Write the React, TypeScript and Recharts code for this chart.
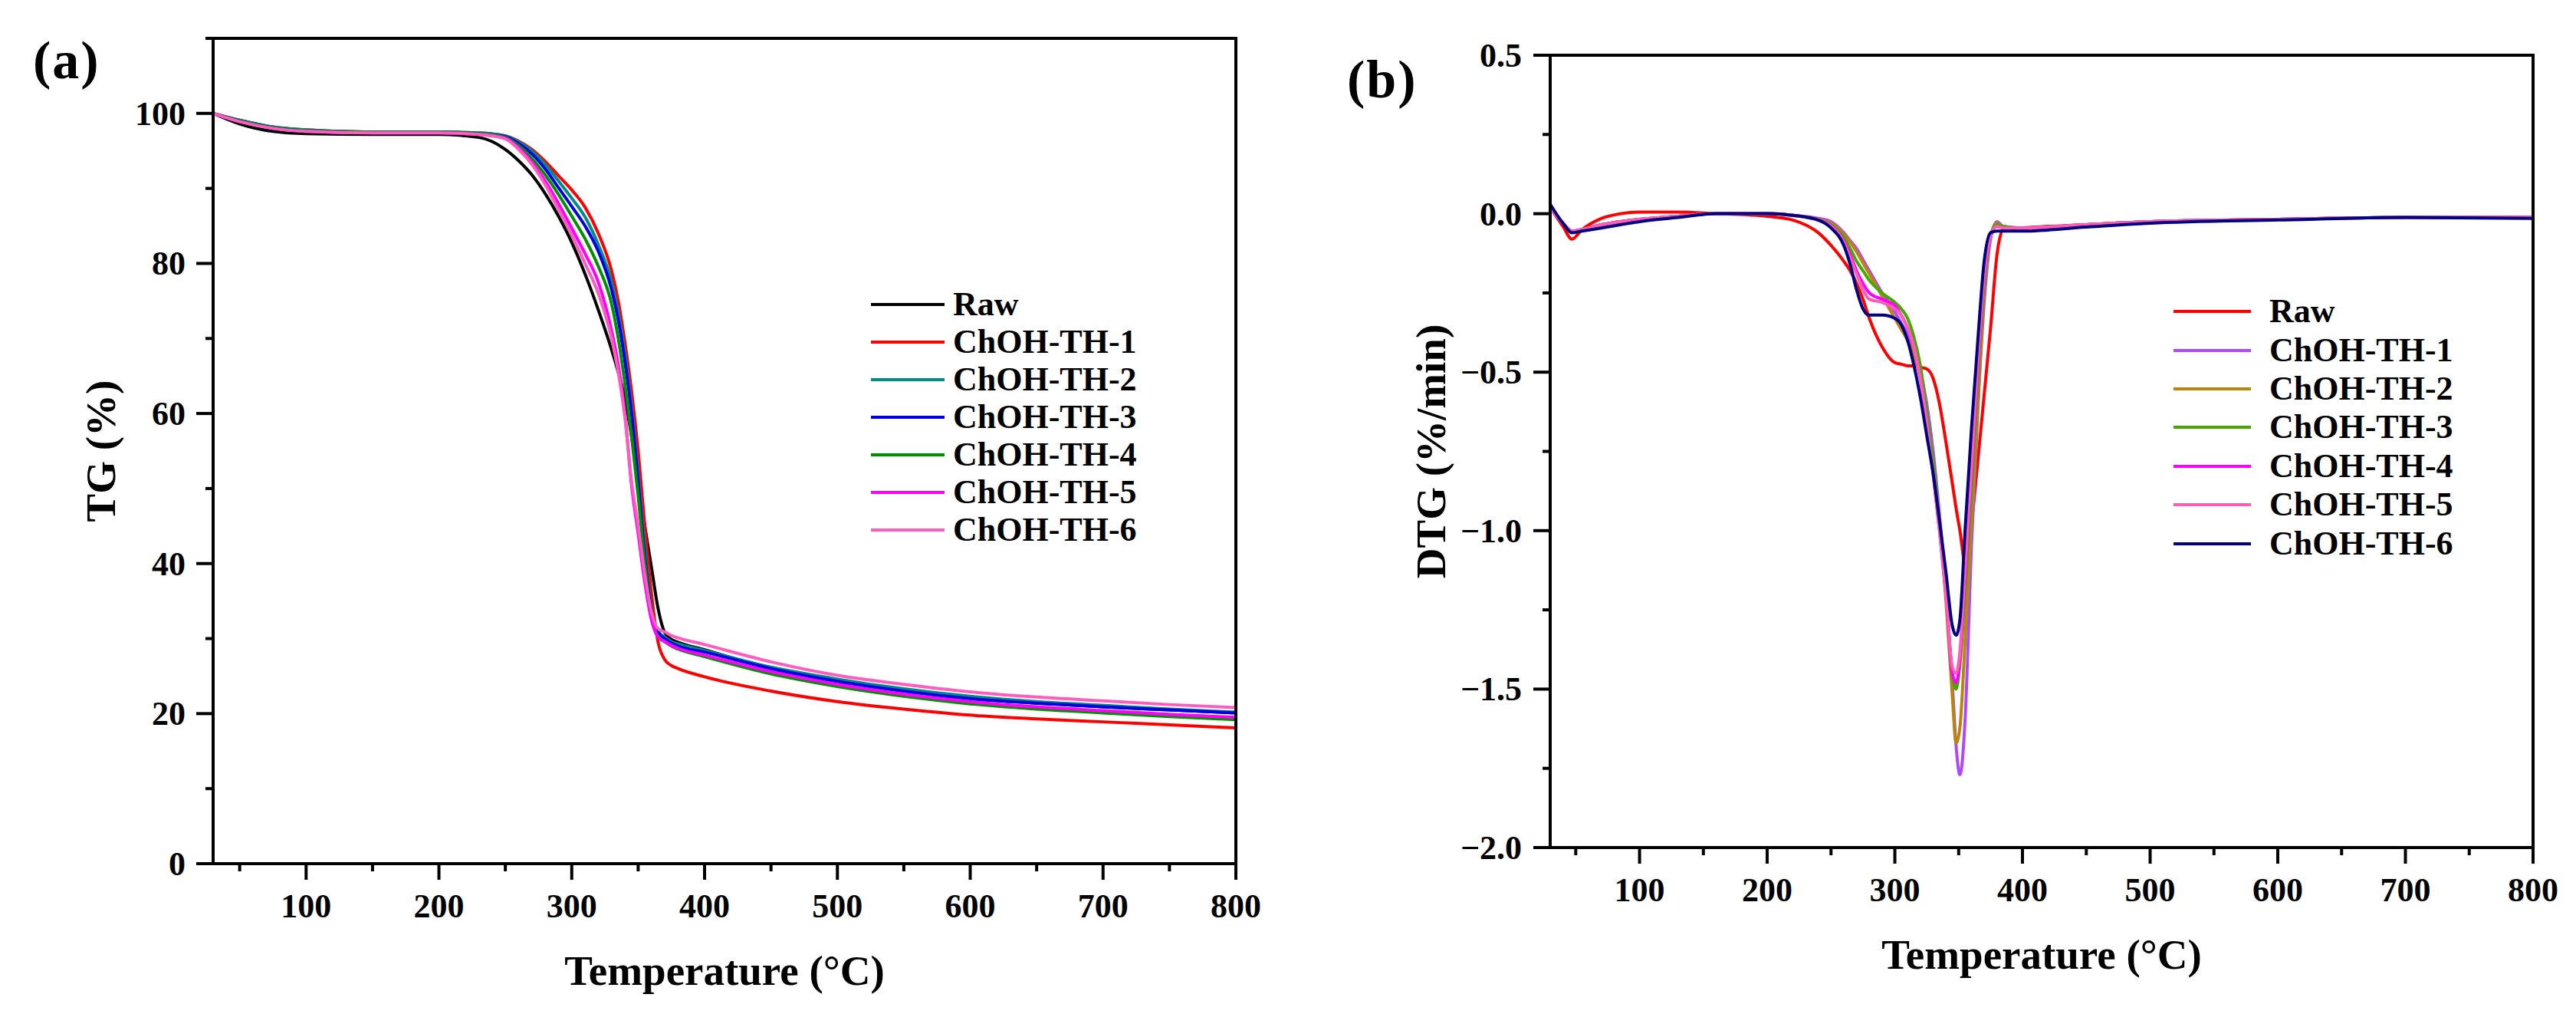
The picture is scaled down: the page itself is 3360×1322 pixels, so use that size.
import React from 'react';
import { LineChart, Line, XAxis, YAxis, Label } from 'recharts';

const FONT = "'Liberation Serif', 'Times New Roman', Times, serif";

// ---------------- Panel (a): TG ----------------
const TEMPS_A = [30, 50, 75, 100, 150, 200, 230, 250, 260, 270, 280, 290, 300, 310, 320, 330, 335, 340, 345, 350, 355, 360, 365, 370, 375, 380, 400, 450, 500, 550, 600, 650, 700, 750, 800];
const TG_RAW = [100, 98.6, 97.6, 97.3, 97.2, 97.2, 96.8, 95.2, 93.7, 91.8, 89.3, 86.3, 82.8, 78.6, 73.8, 68.5, 65.5, 62.0, 57.0, 51.0, 45.0, 39.5, 34.0, 30.8, 29.9, 29.5, 28.5, 26.0, 24.3, 23.0, 22.0, 21.4, 20.9, 20.5, 20.1];
const TG_TH1 = [100, 99.1, 98.2, 97.8, 97.5, 97.5, 97.4, 97.0, 96.3, 95.2, 93.6, 91.7, 89.8, 87.5, 84.0, 79.0, 75.0, 69.5, 63.0, 55.0, 45.0, 36.0, 29.5, 27.2, 26.4, 26.0, 24.9, 23.0, 21.6, 20.6, 19.8, 19.3, 18.9, 18.5, 18.1];
const TG_TH2 = [100, 99.1, 98.2, 97.8, 97.5, 97.5, 97.4, 97.0, 96.2, 95.0, 93.2, 91.0, 88.7, 86.2, 82.5, 77.5, 73.5, 68.0, 61.0, 52.0, 42.0, 34.0, 31.0, 30.2, 29.6, 29.3, 28.4, 26.2, 24.6, 23.3, 22.3, 21.6, 21.1, 20.6, 20.2];
const TG_TH3 = [100, 99.0, 98.1, 97.7, 97.5, 97.5, 97.3, 96.9, 96.0, 94.6, 92.6, 90.1, 87.6, 85.0, 81.6, 76.5, 72.5, 67.0, 60.0, 51.0, 41.0, 33.5, 30.8, 30.0, 29.4, 29.0, 28.2, 26.0, 24.3, 23.0, 22.0, 21.4, 20.9, 20.5, 20.1];
const TG_TH4 = [100, 99.0, 98.1, 97.7, 97.5, 97.5, 97.3, 96.8, 95.7, 94.0, 91.8, 89.2, 86.3, 83.3, 79.6, 74.6, 70.0, 64.0, 57.0, 49.0, 40.0, 33.0, 30.3, 29.6, 29.0, 28.6, 27.6, 25.3, 23.6, 22.3, 21.3, 20.6, 20.1, 19.6, 19.2];
const TG_TH5 = [100, 98.9, 98.0, 97.6, 97.4, 97.4, 97.2, 96.7, 95.4, 93.5, 91.0, 88.0, 84.7, 81.3, 77.5, 71.0, 66.5, 60.0, 50.5, 44.0, 37.5, 32.5, 30.2, 29.6, 29.1, 28.7, 27.8, 25.6, 23.9, 22.6, 21.6, 20.9, 20.4, 19.9, 19.5];
const TG_TH6 = [100, 98.9, 98.0, 97.6, 97.4, 97.4, 97.2, 96.6, 95.2, 93.2, 90.5, 87.2, 83.8, 80.0, 76.0, 70.0, 65.5, 59.5, 51.0, 45.0, 38.5, 33.5, 31.3, 30.9, 30.4, 30.1, 29.2, 26.9, 25.1, 23.9, 22.9, 22.2, 21.7, 21.2, 20.8];

const NAMES = ['Raw', 'ChOH-TH-1', 'ChOH-TH-2', 'ChOH-TH-3', 'ChOH-TH-4', 'ChOH-TH-5', 'ChOH-TH-6'];
const KEYS = ['raw', 'th1', 'th2', 'th3', 'th4', 'th5', 'th6'];
const COLORS_A = ['#000000', '#FF0000', '#008B8B', '#0000E6', '#009000', '#FF00FF', '#FF5CC0'];
const VALUES_A = [TG_RAW, TG_TH1, TG_TH2, TG_TH3, TG_TH4, TG_TH5, TG_TH6];

// ---------------- Panel (b): DTG ----------------
const TEMPS_B = [30, 40, 47, 55, 70, 85, 100, 130, 160, 200, 220, 240, 250, 260, 265, 270, 275, 280, 290, 300, 305, 310, 315, 320, 325, 330, 335, 340, 345, 348, 351, 355, 360, 365, 370, 375, 380, 385, 400, 450, 500, 600, 700, 800];
const DTG_RAW = [0.02, -0.04, -0.08, -0.05, -0.015, 0.0, 0.005, 0.005, 0.0, -0.008, -0.02, -0.06, -0.1, -0.15, -0.18, -0.22, -0.27, -0.33, -0.42, -0.47, -0.475, -0.48, -0.48, -0.485, -0.49, -0.52, -0.6, -0.72, -0.85, -0.93, -1.0, -1.1, -0.98, -0.78, -0.57, -0.36, -0.13, -0.05, -0.045, -0.035, -0.025, -0.018, -0.012, -0.012];
const DTG_TH1 = [0.02, -0.03, -0.055, -0.05, -0.035, -0.025, -0.018, -0.008, 0.0, 0.0, -0.005, -0.015, -0.025, -0.06, -0.085, -0.11, -0.145, -0.18, -0.25, -0.31, -0.345, -0.38, -0.43, -0.5, -0.6, -0.75, -0.95, -1.18, -1.48, -1.68, -1.77, -1.6, -1.05, -0.62, -0.28, -0.08, -0.025, -0.04, -0.045, -0.035, -0.025, -0.018, -0.012, -0.012];
const DTG_TH2 = [0.02, -0.03, -0.055, -0.05, -0.035, -0.025, -0.018, -0.008, 0.0, 0.0, -0.005, -0.018, -0.03, -0.065, -0.09, -0.12, -0.155, -0.19, -0.26, -0.33, -0.365, -0.4, -0.45, -0.52, -0.63, -0.78, -0.98, -1.22, -1.52, -1.67, -1.62, -1.35, -0.98, -0.6, -0.25, -0.07, -0.03, -0.04, -0.045, -0.035, -0.025, -0.018, -0.012, -0.012];
const DTG_TH3 = [0.02, -0.03, -0.055, -0.05, -0.035, -0.025, -0.018, -0.008, 0.0, 0.0, -0.005, -0.02, -0.035, -0.075, -0.11, -0.15, -0.18, -0.21, -0.25, -0.28, -0.3, -0.33, -0.39, -0.48, -0.62, -0.78, -0.98, -1.2, -1.45, -1.5, -1.42, -1.2, -0.88, -0.52, -0.22, -0.07, -0.035, -0.04, -0.045, -0.035, -0.025, -0.018, -0.012, -0.012];
const DTG_TH4 = [0.02, -0.03, -0.055, -0.05, -0.035, -0.025, -0.018, -0.008, 0.0, 0.0, -0.005, -0.02, -0.038, -0.085, -0.13, -0.18, -0.22, -0.25, -0.27, -0.29, -0.32, -0.36, -0.42, -0.52, -0.66, -0.82, -1.0, -1.2, -1.45, -1.48, -1.4, -1.15, -0.82, -0.48, -0.2, -0.07, -0.04, -0.045, -0.045, -0.035, -0.025, -0.018, -0.012, -0.012];
const DTG_TH5 = [0.02, -0.03, -0.055, -0.05, -0.035, -0.025, -0.018, -0.008, 0.0, 0.0, -0.005, -0.02, -0.04, -0.09, -0.14, -0.19, -0.24, -0.27, -0.28, -0.3, -0.32, -0.36, -0.42, -0.52, -0.66, -0.82, -1.0, -1.2, -1.43, -1.45, -1.38, -1.12, -0.8, -0.46, -0.19, -0.07, -0.04, -0.045, -0.045, -0.035, -0.025, -0.018, -0.012, -0.012];
const DTG_TH6 = [0.03, -0.03, -0.06, -0.055, -0.045, -0.035, -0.025, -0.012, 0.0, 0.0, -0.005, -0.02, -0.045, -0.1, -0.16, -0.24, -0.3, -0.32, -0.32, -0.33, -0.35, -0.4, -0.48, -0.58, -0.7, -0.82, -0.97, -1.13, -1.3, -1.33, -1.28, -1.0, -0.68, -0.4, -0.15, -0.06, -0.055, -0.055, -0.055, -0.042, -0.03, -0.02, -0.012, -0.015];
const COLORS_B = ['#FF0000', '#B048FF', '#B8860B', '#44AA00', '#FF00FF', '#FF5CB8', '#000080'];
const VALUES_B = [DTG_RAW, DTG_TH1, DTG_TH2, DTG_TH3, DTG_TH4, DTG_TH5, DTG_TH6];

// ---------------- Ticks ----------------
const X_TICKS = [50, 100, 150, 200, 250, 300, 350, 400, 450, 500, 550, 600, 650, 700, 750, 800];
const Y_TICKS_A = [0, 10, 20, 30, 40, 50, 60, 70, 80, 90, 100, 110];
const Y_TICKS_B = [-2, -1.75, -1.5, -1.25, -1, -0.75, -0.5, -0.25, 0, 0.25, 0.5];

const buildData = (temps: number[], values: number[][]) =>
  temps.map((t, i) => {
    const row: any = { T: t };
    KEYS.forEach((k, j) => { row[k] = values[j][i]; });
    return row;
  });

const dataA = buildData(TEMPS_A, VALUES_A);
const dataB = buildData(TEMPS_B, VALUES_B);

const W = 1680;
const H = 1322;
// axes take 1px each (width/height 1), so margins are 1px less than the plot box edges
const MARGIN_A = { top: 49, right: 67, bottom: 195, left: 277 };
const MARGIN_B = { top: 71, right: 55, bottom: 216, left: 341 };

const TICK_FONT = 44;
const AXIS_STROKE = 4;

const XTick = (props: any) => {
  const { x, y, payload } = props;
  const v = payload.value;
  const major = v % 100 === 0;
  return (
    <g>
      <line x1={x} x2={x} y1={y} y2={y + (major ? 21 : 10)} stroke="#000" strokeWidth={AXIS_STROKE} />
      {major && (
        <text x={x} y={y + 70} textAnchor="middle" fontFamily={FONT} fontWeight="bold" fontSize={TICK_FONT} fill="#000">
          {v}
        </text>
      )}
    </g>
  );
};

const YTickA = (props: any) => {
  const { x, y, payload } = props;
  const v = payload.value;
  const major = v % 20 === 0 && v <= 100;
  return (
    <g>
      <line x1={x} x2={x - (major ? 22 : 10)} y1={y} y2={y} stroke="#000" strokeWidth={AXIS_STROKE} />
      {major && (
        <text x={x - 36} y={y} dy="0.34em" textAnchor="end" fontFamily={FONT} fontWeight="bold" fontSize={TICK_FONT} fill="#000">
          {v}
        </text>
      )}
    </g>
  );
};

const fmtB = (v: number) => (Math.abs(v) < 1e-9 ? '0.0' : v.toFixed(1).replace('-', '\u2212'));

const YTickB = (props: any) => {
  const { x, y, payload } = props;
  const v = payload.value;
  const major = Math.abs(v * 2 - Math.round(v * 2)) < 1e-6;
  return (
    <g>
      <line x1={x} x2={x - (major ? 22 : 10)} y1={y} y2={y} stroke="#000" strokeWidth={AXIS_STROKE} />
      {major && (
        <text x={x - 37} y={y} dy="0.34em" textAnchor="end" fontFamily={FONT} fontWeight="bold" fontSize={TICK_FONT} fill="#000">
          {fmtB(v)}
        </text>
      )}
    </g>
  );
};

const xTitle = (props: any) => {
  const vb = props.viewBox || { x: 0, y: 0, width: 0, height: 0 };
  return (
    <text x={vb.x + vb.width / 2} y={vb.y + 158} textAnchor="middle" fontFamily={FONT} fontWeight="bold" fontSize={55} fill="#000">
      Temperature (°C)
    </text>
  );
};

const yTitle = (text: string, off: number) => (props: any) => {
  const vb = props.viewBox || { x: 0, y: 0, width: 0, height: 0 };
  const cx = vb.x + vb.width - off;
  const cy = vb.y + vb.height / 2;
  return (
    <text x={cx} y={cy} transform={`rotate(-90 ${cx} ${cy})`} textAnchor="middle" fontFamily={FONT} fontWeight="bold" fontSize={55} fill="#000">
      {text}
    </text>
  );
};

const axisLineStyle = { stroke: '#000', strokeWidth: AXIS_STROKE, strokeLinecap: 'square' as const };

const Panel = ({ data, margin, yDomain, yTicks, YTick, colors, yLabel, yOff }: any) => (
  <LineChart width={W} height={H} data={data} margin={margin}>
    <XAxis
      xAxisId="b"
      dataKey="T"
      type="number"
      domain={[30, 800]}
      ticks={X_TICKS}
      interval={0}
      height={1}
      tickSize={0}
      tickMargin={0}
      tickLine={false}
      axisLine={axisLineStyle}
      tick={(p: any) => <XTick {...p} />}
      allowDataOverflow
    >
      <Label content={xTitle} />
    </XAxis>
    <XAxis
      xAxisId="t"
      orientation="top"
      dataKey="T"
      type="number"
      domain={[30, 800]}
      height={1}
      tick={false}
      tickLine={false}
      axisLine={axisLineStyle}
      allowDataOverflow
    />
    <YAxis
      yAxisId="l"
      type="number"
      domain={yDomain}
      ticks={yTicks}
      interval={0}
      width={1}
      tickSize={0}
      tickMargin={0}
      tickLine={false}
      axisLine={axisLineStyle}
      tick={(p: any) => <YTick {...p} />}
      allowDataOverflow
    >
      <Label content={yTitle(yLabel, yOff)} />
    </YAxis>
    <YAxis
      yAxisId="r"
      orientation="right"
      type="number"
      domain={yDomain}
      width={1}
      tick={false}
      tickLine={false}
      axisLine={axisLineStyle}
      allowDataOverflow
    />
    {KEYS.map((k, i) => (
      <Line
        key={k}
        xAxisId="b"
        yAxisId="l"
        type="monotone"
        dataKey={k}
        name={NAMES[i]}
        stroke={colors[i]}
        strokeWidth={4}
        dot={false}
        activeDot={false}
        isAnimationActive={false}
      />
    ))}
  </LineChart>
);

const LegendBox = ({ left, top, rowH, lineW, gap, colors }: any) => (
  <div style={{ position: 'absolute', left, top, fontFamily: FONT, fontWeight: 'bold', fontSize: 44, color: '#000' }}>
    {NAMES.map((n, i) => (
      <div key={n} style={{ display: 'flex', alignItems: 'center', height: rowH, whiteSpace: 'nowrap' }}>
        <svg width={lineW} height={8} style={{ display: 'block' }}>
          <line x1={0} x2={lineW} y1={4} y2={4} stroke={colors[i]} strokeWidth={4} />
        </svg>
        <span style={{ marginLeft: gap, lineHeight: 1 }}>{n}</span>
      </div>
    ))}
  </div>
);

export default function App() {
  return (
    <div style={{ position: 'absolute', left: 0, top: 0, width: 3360, height: 1322, background: '#fff', overflow: 'hidden' }}>
      <div style={{ position: 'absolute', left: 0, top: 0 }}>
        <Panel data={dataA} margin={MARGIN_A} yDomain={[0, 110]} yTicks={Y_TICKS_A} YTick={YTickA} colors={COLORS_A} yLabel="TG (%)" yOff={128} />
      </div>
      <div style={{ position: 'absolute', left: 1680, top: 0 }}>
        <Panel data={dataB} margin={MARGIN_B} yDomain={[-2, 0.5]} yTicks={Y_TICKS_B} YTick={YTickB} colors={COLORS_B} yLabel="DTG (%/min)" yOff={137} />
      </div>
      <LegendBox left={1136} top={372} rowH={49} lineW={96} gap={11} colors={COLORS_A} />
      <LegendBox left={2835} top={381} rowH={50.4} lineW={101} gap={24} colors={COLORS_B} />
      <svg style={{ position: 'absolute', left: 0, top: 0 }} width={3360} height={200}>
        <text x={43} y={102} fontFamily={FONT} fontWeight="bold" fontSize={70} letterSpacing={2} fill="#000">(a)</text>
        <text x={1757} y={127} fontFamily={FONT} fontWeight="bold" fontSize={70} letterSpacing={2} fill="#000">(b)</text>
      </svg>
    </div>
  );
}
